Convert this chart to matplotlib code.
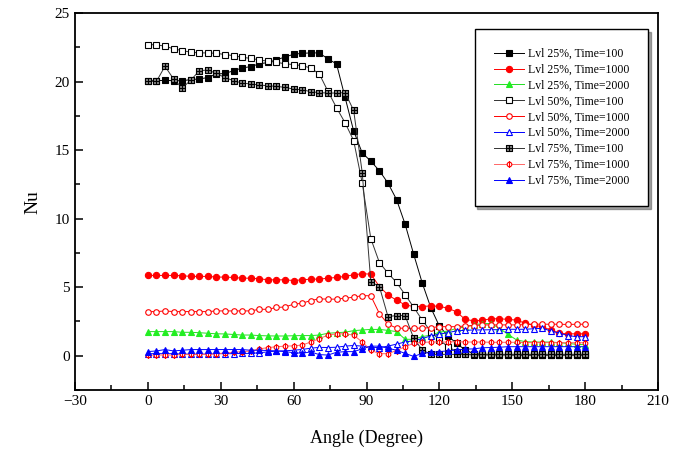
import numpy as np
import matplotlib.pyplot as plt
from matplotlib.path import Path
from matplotlib.ticker import MultipleLocator

plt.rcParams['font.family'] = ['Liberation Serif', 'DejaVu Serif']

# 52 equally spaced angles from 0 to 180 degrees
angle = np.linspace(0, 180, 52)

nu_25_100 = [20.07, 20.07, 20.1, 20.07, 20.07, 20.15, 20.2, 20.3, 20.56, 20.6, 20.8, 21.0, 21.1,
             21.3, 21.4, 21.6, 21.8, 22.0, 22.07, 22.1, 22.1, 21.66, 21.3,
             18.85, 16.4, 14.8, 14.2, 13.5, 12.6, 11.4, 9.6, 7.4, 5.3, 3.5, 2.15, 1.44, 0.9, 0.42,
             0.15, 0.1, 0.1, 0.08, 0.08, 0.05, 0.05, 0.05, 0.05, 0.05, 0.05, 0.05, 0.05, 0.05]
nu_25_1000 = [5.86, 5.86, 5.86, 5.86, 5.84, 5.79, 5.79, 5.79, 5.74, 5.74, 5.71, 5.66, 5.66, 5.62,
              5.54, 5.54, 5.54,
              5.49, 5.54, 5.59, 5.59, 5.66, 5.71, 5.79, 5.91, 5.98, 5.96,
              5.05, 4.44, 4.05, 3.71, 3.59, 3.59, 3.64, 3.6, 3.47, 3.2, 2.65, 2.55, 2.58, 2.7, 2.7,
              2.65, 2.6, 2.37, 2.25, 2.1, 1.88, 1.63, 1.6, 1.6, 1.6]
nu_25_2000 = [1.76, 1.76, 1.76, 1.76, 1.71, 1.71, 1.68, 1.64, 1.6, 1.59, 1.55, 1.51, 1.51, 1.47,
              1.45, 1.44, 1.44,
              1.46, 1.47, 1.47, 1.51, 1.64, 1.68, 1.72, 1.83, 1.88, 1.92, 1.92, 1.85, 1.76, 1.2,
              1.2, 1.4, 1.5,
              1.72, 1.8, 2.0, 2.1, 2.25, 2.35, 2.35, 2.0, 1.56, 1.15, 1.03, 1.0, 1.0, 1.0, 0.95,
              0.9, 0.83, 0.8]
nu_50_100 = [22.71, 22.69, 22.59, 22.4, 22.27, 22.15, 22.1, 22.1, 22.07, 21.98, 21.9, 21.78, 21.7,
             21.59, 21.49, 21.42, 21.3, 21.25, 21.17, 21.0, 20.56,
             19.3, 18.1, 17.0, 15.7, 12.6, 8.55, 6.8, 6.03, 5.35, 4.45, 3.54, 2.6, 1.76, 1.15, 0.66,
             0.3, 0.1, 0.05, 0.05, 0.05, 0.05, 0.05, 0.05, 0.05, 0.05, 0.05, 0.05, 0.05, 0.05,
             0.05, 0.05]
nu_50_1000 = [3.22, 3.22, 3.27, 3.22, 3.22, 3.22, 3.22, 3.22, 3.27, 3.27, 3.27, 3.27, 3.27, 3.39,
              3.39, 3.52, 3.56,
              3.76, 3.83, 4.03, 4.15, 4.13, 4.13, 4.2, 4.27, 4.39, 4.37,
              3.08, 2.3, 2.02, 2.0, 2.0, 2.02, 2.05, 2.12, 2.12, 2.12, 2.17, 2.2, 2.25, 2.25, 2.25,
              2.25, 2.25, 2.27, 2.3, 2.3, 2.3, 2.3, 2.28, 2.3, 2.3]
nu_50_2000 = [0.15, 0.15, 0.15, 0.15, 0.12, 0.12, 0.12, 0.12, 0.15, 0.15, 0.15, 0.17,
              0.17, 0.22, 0.28, 0.34, 0.36, 0.4, 0.46, 0.55, 0.61, 0.6, 0.62, 0.7, 0.75, 0.7,
              0.62, 0.59, 0.7, 0.85, 1.0, 1.1, 1.25, 1.45, 1.58, 1.68, 1.82, 1.85, 1.88, 1.88, 1.9,
              1.9, 1.93, 1.93, 1.93, 1.97, 2.0, 1.81, 1.65, 1.47, 1.39, 1.39]
nu_75_100 = [20.02, 20.02, 21.12, 20.2, 19.54, 20.1, 20.8, 20.85, 20.6, 20.3, 20.07, 19.9, 19.83,
             19.76, 19.7, 19.66, 19.58, 19.46, 19.41, 19.27, 19.2, 19.17, 19.17, 19.2, 17.9,
             13.36, 5.4, 5.05, 2.86, 2.93, 2.93, 1.27, 0.42,
             0.1, 0.1, 0.1, 0.1, 0.1, 0.1, 0.1, 0.1, 0.1, 0.1, 0.1, 0.1, 0.1, 0.1, 0.1, 0.1, 0.1,
             0.1, 0.1]
nu_75_1000 = [0.05, 0.05, 0.05, 0.05, 0.1, 0.1, 0.1, 0.12, 0.15, 0.2, 0.25, 0.3,
              0.34, 0.5, 0.59, 0.66, 0.7, 0.72, 0.78, 1.0, 1.25, 1.5, 1.6, 1.6, 1.5, 1.0, 0.4,
              0.15, 0.15, 0.38, 0.66, 0.9, 0.98, 1.0, 1.0, 1.0, 1.03, 1.0, 1.0, 1.0, 0.98, 0.98,
              0.98, 0.98, 0.96, 0.96, 0.96, 0.96, 0.95, 0.95, 0.95, 0.95]
nu_75_2000 = [0.3, 0.35, 0.45, 0.35, 0.4, 0.45, 0.45, 0.45, 0.45, 0.45, 0.45, 0.45, 0.4, 0.4,
              0.38, 0.35, 0.3, 0.22, 0.18, 0.28, 0.08, 0.05, 0.25, 0.3, 0.3, 0.5, 0.7, 0.7, 0.55,
              0.4, 0.17, -0.05, 0.17, 0.24, 0.3, 0.36, 0.42, 0.48, 0.5, 0.58, 0.6, 0.62, 0.66,
              0.66, 0.66, 0.66, 0.66, 0.66, 0.66, 0.66, 0.66, 0.66]

labels = ['Lvl 25%, Time=100', 'Lvl 25%, Time=1000', 'Lvl 25%, Time=2000',
          'Lvl 50%, Time=100', 'Lvl 50%, Time=1000', 'Lvl 50%, Time=2000',
          'Lvl 75%, Time=100', 'Lvl 75%, Time=1000', 'Lvl 75%, Time=2000']

# square with a cross inside, and circle with a vertical bar
sq_cross = Path([(-1, -1), (1, -1), (1, 1), (-1, 1), (-1, -1), (-1, 0), (1, 0), (0, -1), (0, 1)],
                [Path.MOVETO, Path.LINETO, Path.LINETO, Path.LINETO, Path.CLOSEPOLY,
                 Path.MOVETO, Path.LINETO, Path.MOVETO, Path.LINETO])
circ = Path.unit_circle()
circ_bar = Path.make_compound_path(circ, Path([(0, -1.35), (0, 1.35)], [Path.MOVETO, Path.LINETO]))

styles = [
    dict(color='black', marker='s', mfc='black', mec='black', ms=4),
    dict(color='red', marker='o', mfc='red', mec='red', ms=4.5),
    dict(color='#22dd22', marker='^', mfc='#22ee22', mec='#22ee22', ms=5),
    dict(color='#333333', marker='s', mfc='white', mec='black', ms=4),
    dict(color='red', marker='o', mfc='white', mec='red', ms=4),
    dict(color='blue', marker='^', mfc='white', mec='blue', ms=5),
    dict(color='#333333', marker=sq_cross, mfc='#888888', mec='black', ms=4.5),
    dict(color='#ff6666', marker=circ_bar, mfc='white', mec='red', ms=4.5),
    dict(color='blue', marker='^', mfc='blue', mec='blue', ms=5),
]
series = [nu_25_100, nu_25_1000, nu_25_2000, nu_50_100, nu_50_1000, nu_50_2000,
          nu_75_100, nu_75_1000, nu_75_2000]

fig = plt.figure(figsize=(6.75, 4.54), dpi=100)
ax = fig.add_axes([0.111, 0.141, 0.864, 0.830])

for vals, lab, st in zip(series, labels, styles):
    ax.plot(angle, vals, lw=0.7, mew=0.8, label=lab, **st)

ax.set_xlim(-30, 210)
ax.set_ylim(-2.5, 25)
ax.xaxis.set_major_locator(MultipleLocator(30))
ax.xaxis.set_minor_locator(MultipleLocator(15))
ax.yaxis.set_major_locator(MultipleLocator(5))
ax.yaxis.set_minor_locator(MultipleLocator(2.5))
ax.tick_params(which='both', direction='in', top=False, right=False, labelsize=11, width=1.1)
ax.tick_params(which='major', length=6)
ax.tick_params(which='minor', length=3.5)
for s in ax.spines.values():
    s.set_linewidth(1.3)

ax.set_xlabel('Angle (Degree)', fontsize=13, labelpad=16)
ax.set_ylabel('Nu', fontsize=14, labelpad=10)

leg = ax.legend(loc='upper right', bbox_to_anchor=(0.993, 0.974), fontsize=8.5,
                fancybox=False, shadow=True, edgecolor='black', framealpha=1,
                borderpad=1.6, labelspacing=0.33, handlelength=2.6, handletextpad=0.3)
leg.get_frame().set_linewidth(1.0)

fig.savefig('out.png', dpi=100)
